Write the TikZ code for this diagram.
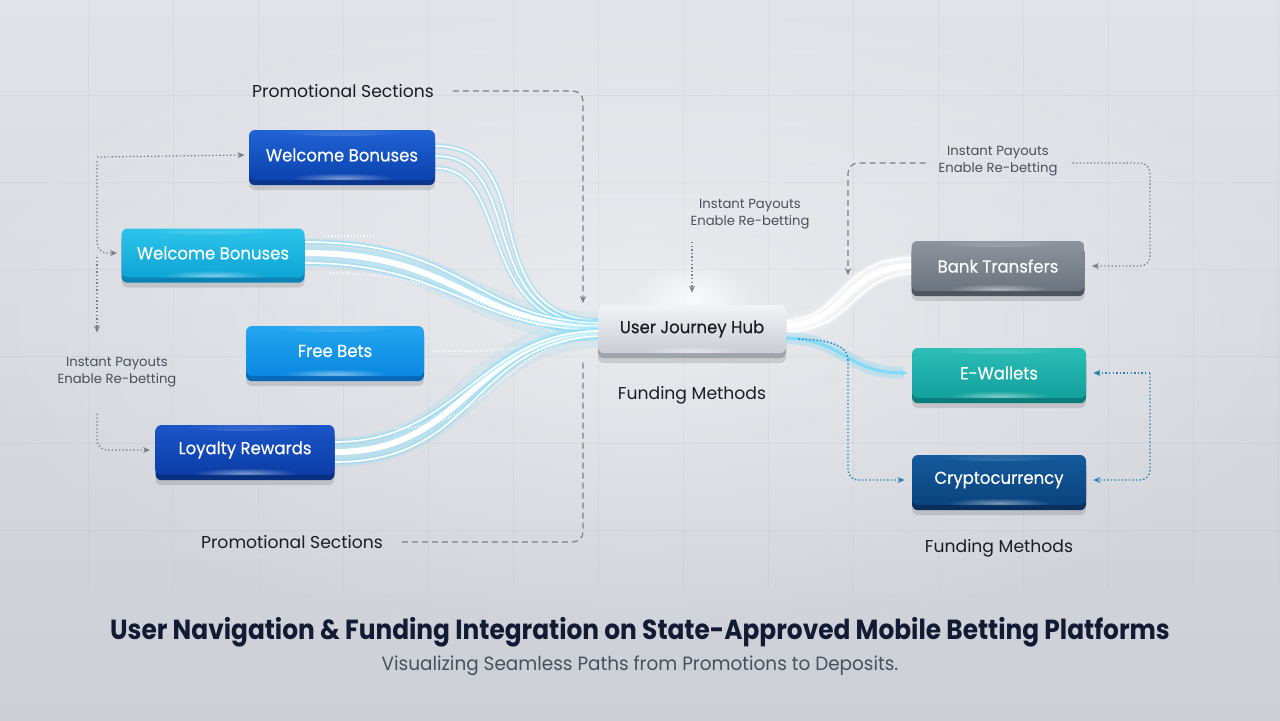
\documentclass[tikz,border=0pt]{standalone}
\usepackage{fontspec}
\setmainfont{Poppins}
\newfontfamily\titlefont[FakeStretch=0.9]{Poppins}
\newfontfamily\subfont[FakeStretch=0.96]{Poppins}
\newfontfamily\cardfont[FakeBold=0.35,FakeStretch=0.95]{Poppins}
\usetikzlibrary{arrows.meta,shadows,calc,fadings}
\tikzfading[name=softglow, inner color=transparent!0, outer color=transparent!100]
\pgfdeclarelayer{bglayer}
\pgfdeclarelayer{flowlayer}
\pgfsetlayers{bglayer,flowlayer,main}
\definecolor{bgtop}{HTML}{E1E3E8}
\definecolor{bgbot}{HTML}{CCCFD6}
\definecolor{wbA}{HTML}{1F63D6}\definecolor{wbAb}{HTML}{0B43AE}\definecolor{wbAe}{HTML}{0A3690}
\definecolor{wbB}{HTML}{2DC4EA}\definecolor{wbBb}{HTML}{0EA4D6}\definecolor{wbBe}{HTML}{0A84B4}
\definecolor{fbA}{HTML}{23A6F0}\definecolor{fbAb}{HTML}{0A88E0}\definecolor{fbAe}{HTML}{0868B8}
\definecolor{lrA}{HTML}{1B55C8}\definecolor{lrAb}{HTML}{0B3DA6}\definecolor{lrAe}{HTML}{08307E}
\definecolor{hubA}{HTML}{F2F3F5}\definecolor{hubAb}{HTML}{C9CDD4}\definecolor{hubAe}{HTML}{9EA3AC}
\definecolor{bkA}{HTML}{8D949D}\definecolor{bkAb}{HTML}{6B737E}\definecolor{bkAe}{HTML}{4E555E}
\definecolor{ewA}{HTML}{2CBDB6}\definecolor{ewAb}{HTML}{12A09C}\definecolor{ewAe}{HTML}{0B7C79}
\definecolor{crA}{HTML}{135A9C}\definecolor{crAb}{HTML}{0B437E}\definecolor{crAe}{HTML}{082F5E}
\definecolor{glow}{HTML}{5FD2F5}
\definecolor{dotgray}{HTML}{7A808A}
\definecolor{dotblue}{HTML}{2A7FB5}
\definecolor{titlecol}{HTML}{131A33}
\definecolor{subcol}{HTML}{4A4F5C}
\definecolor{labcol}{HTML}{1A1D26}
\tikzset{
  card/.style n args={3}{rounded corners=3pt, text=white, inner sep=0pt,
    font=\cardfont\fontsize{8.7}{11}\selectfont, top color=#1, bottom color=#2,
    drop shadow={shadow xshift=0pt, shadow yshift=-5pt, opacity=0.12, fill=black},
    general shadow={shadow yshift=-2.6pt, fill=#3},
    path picture={
      \fill[white, opacity=0.35, path fading=softglow] (path picture bounding box.north) ellipse (34pt and 3pt);
      \fill[white, opacity=0.45, path fading=softglow] ([yshift=1pt]path picture bounding box.south) ellipse (26pt and 2.5pt);
    }},
  sectlabel/.style={text=labcol, font=\fontsize{8.6}{10}\selectfont},
  notelabel/.style={text=subcol, font=\fontsize{6.6}{8.2}\selectfont, align=center},
  graydash/.style={draw=dotgray, line width=0.6pt, dash pattern=on 3pt off 2pt, rounded corners=5pt},
  graydot/.style={draw=dotgray, line width=0.6pt, dash pattern=on 0.7pt off 1.1pt, rounded corners=5pt},
  bluedot/.style={draw=dotblue, line width=0.7pt, dash pattern=on 0.7pt off 1.1pt, rounded corners=5pt},
  tip/.style={-{Stealth[length=3.5pt,width=3pt]}},
  flowmain/.style={draw=white, line width=3pt, line cap=round,
    preaction={draw=glow, line width=15pt, opacity=0.10},
    preaction={draw=glow!60!white, line width=7pt, opacity=0.45}},
  flowthin/.style={draw=white, line width=0.8pt, line cap=round,
    preaction={draw=glow!80!white, line width=2.6pt, opacity=0.45}},
  flowwhite/.style={draw=white, line width=3pt, line cap=round,
    preaction={draw=white, line width=12pt, opacity=0.15},
    preaction={draw=white, line width=6pt, opacity=0.5}},
  flowwthin/.style={draw=white, line width=0.8pt, line cap=round,
    preaction={draw=white, line width=2.5pt, opacity=0.35}},
  flowcyan/.style={draw=glow!80!white, line width=1.5pt, line cap=round,
    preaction={draw=glow, line width=6pt, opacity=0.25}},
  flowdots/.style={draw=white, line width=0.8pt, dash pattern=on 0.6pt off 1pt, opacity=0.85},
}
\begin{document}
\begin{tikzpicture}[x=0.5pt,y=-0.5pt]
\useasboundingbox (0,0) rectangle (1280,720);
% background
\begin{pgfonlayer}{bglayer}
\fill[top color=bgtop, bottom color=bgbot] (0,0) rectangle (1280,720);
\fill[white, opacity=0.45, path fading=softglow] (640,320) ellipse (700 and 330);
\foreach \gx in {88,173,...,1280} \draw[black, opacity=0.03, line width=0.4pt] (\gx,0) -- (\gx,590);
\foreach \gy in {95,182,...,600} \draw[black, opacity=0.03, line width=0.4pt] (0,\gy) -- (1280,\gy);
\fill[white, opacity=0.8, path fading=softglow] (692,300) ellipse (60 and 40);
\end{pgfonlayer}

% nodes
\node[card={wbA}{wbAb}{wbAe}, minimum width=93pt, minimum height=25pt] (wb1) at (342,155) {Welcome Bonuses};
\node[card={wbB}{wbBb}{wbBe}, minimum width=91.5pt, minimum height=24.5pt] (wb2) at (213,253) {Welcome Bonuses};
\node[card={fbA}{fbAb}{fbAe}, minimum width=89pt, minimum height=25pt] (fb) at (335,351) {Free Bets};
\node[card={lrA}{lrAb}{lrAe}, minimum width=89.5pt, minimum height=25pt] (lr) at (245,450) {Loyalty Rewards};
\node[card={hubA}{hubAb}{hubAe}, text=labcol, minimum width=94pt, minimum height=24pt] (hub) at (692,329) {User Journey Hub};
\node[card={bkA}{bkAb}{bkAe}, minimum width=86.5pt, minimum height=25pt] (bank) at (998,266) {Bank Transfers};
\node[card={ewA}{ewAb}{ewAe}, minimum width=87pt, minimum height=25pt] (ew) at (999,373) {E-Wallets};
\node[card={crA}{crAb}{crAe}, minimum width=87pt, minimum height=25pt] (crypto) at (999,480) {Cryptocurrency};

% flows
\begin{pgfonlayer}{flowlayer}
\draw[flowthin] ($(wb1.east)+(0,-9)$) .. controls (545,146) and (470,318) .. ($(hub.west)+(4,-8)$);
\draw[flowthin] ($(wb1.east)+(0,1)$) .. controls (530,156) and (470,322) .. ($(hub.west)+(4,-4)$);
\draw[flowthin] ($(wb1.east)+(0,13)$) .. controls (515,168) and (470,326) .. ($(hub.west)+(4,-1)$);
\draw[flowmain] (wb2.east) .. controls (460,253) and (470,326) .. ($(hub.west)+(4,-2)$);
\draw[flowthin] ($(wb2.east)+(0,-11)$) .. controls (470,242) and (470,320) .. ($(hub.west)+(4,-6)$);
\draw[flowthin] ($(wb2.east)+(0,10)$) .. controls (450,263) and (470,330) .. ($(hub.west)+(4,1)$);
\draw[flowdots] ($(wb2.east)+(20,-17)$) -- ($(wb2.east)+(70,-17)$);
\draw[flowdots] ($(wb2.east)+(25,20)$) .. controls (420,273) and (470,300) .. ($(hub.west)+(-30,8)$);
\draw[flowdots] ($(fb.east)+(8,0)$) .. controls (520,353) and (540,342) .. ($(hub.west)+(0,4)$);
\draw[flowmain] ($(lr.east)+(0,2)$) .. controls (470,452) and (470,334) .. ($(hub.west)+(4,4)$);
\draw[flowthin] ($(lr.east)+(0,-8)$) .. controls (460,442) and (480,330) .. ($(hub.west)+(4,2)$);
\draw[flowthin] ($(lr.east)+(0,12)$) .. controls (480,462) and (470,340) .. ($(hub.west)+(4,7)$);
\draw[flowdots] ($(lr.east)+(60,-22)$) .. controls (480,430) and (500,360) .. ($(hub.west)+(-30,12)$);
% right flows
\draw[flowwhite] ($(hub.east)+(-4,-3)$) .. controls (850,326) and (840,266) .. ($(bank.west)+(4,0)$);
\draw[flowwthin] ($(hub.east)+(-4,-8)$) .. controls (845,321) and (835,258) .. ($(bank.west)+(4,-8)$);
\draw[flowwthin] ($(hub.east)+(-4,3)$) .. controls (855,332) and (850,274) .. ($(bank.west)+(4,7)$);
\draw[flowdots] ($(hub.east)+(8,-12)$) .. controls (810,316) and (815,314) .. ($(hub.east)+(34,-20)$);
\draw[flowcyan, tip] ($(hub.east)+(-4,9)$) .. controls (845,338) and (845,373) .. ($(ew.west)+(-4,0)$);
\end{pgfonlayer}

% labels
\node[sectlabel] (promo1) at (343,91) {Promotional Sections};
\node[sectlabel] (promo2) at (292,542) {Promotional Sections};
\node[sectlabel] (fm1) at (692,395) {Funding Methods};
\node[sectlabel] (fm2) at (999,548) {Funding Methods};
\node[notelabel] (ip1) at (117,372) {Instant Payouts\\Enable Re-betting};
\node[notelabel] (ip2) at (750,214) {Instant Payouts\\Enable Re-betting};
\node[notelabel] (ip3) at (998,161) {Instant Payouts\\Enable Re-betting};

% dashed / dotted connectors
\coordinate (pA) at (583,303);
\coordinate (pB) at (583,360);
\draw[graydash, tip] ($(promo1.east)+(12,0)$) -| (pA);
\draw[graydash] ($(promo2.east)+(12,0)$) -| (pB);

\coordinate (lx) at (97,157);
\draw[graydot, tip] (lx) -- ($(wb1.west)+(-4,0)$);
\draw[graydot, tip] ($(lx)+(0,4)$) |- ($(wb2.west)+(-4,0)$);
\draw[graydot, tip] ($(lx)+(0,100)$) -- ($(ip1.north -| lx)+(0,-18)$);
\draw[graydot, tip] ($(ip1.south -| lx)+(0,20)$) |- ($(lr.west)+(-5,0)$);

\coordinate (mid) at (692,242);
\draw[graydot, tip] (mid) -- ($(hub.north -| mid)+(0,-12)$);

\coordinate (rL) at (848,275);
\coordinate (rR) at (1150,163);
\coordinate (rR2) at (1150,266);
\draw[graydash, tip] ($(ip3.west)+(-6,2)$) -| (rL);
\draw[graydot, tip] ($(ip3.east)+(8,2)$) -- (rR) -- (rR2) -- ($(bank.east)+(7,0)$);

\coordinate (bR) at (1150,373);
\coordinate (bR2) at (1150,480);
\draw[bluedot, tip] (bR) -- ($(ew.east)+(7,0)$);
\draw[bluedot, tip] (bR) -- (bR2) -- ($(crypto.east)+(7,0)$);
\coordinate (bL) at (848,360);
\draw[bluedot] ($(hub.east)+(12,10)$) .. controls (840,340) and (848,350) .. (bL);
\draw[bluedot, tip] (bL) |- ($(crypto.west)+(-7,0)$);

% title
\node[text=titlecol, font=\titlefont\bfseries\fontsize{13.8}{16}\selectfont] (title) at (640,632) {User Navigation \& Funding Integration on State-Approved Mobile Betting Platforms};
\node[text=subcol, font=\subfont\fontsize{9.6}{12}\selectfont] (subtitle) at (640,666) {Visualizing Seamless Paths from Promotions to Deposits.};
\end{tikzpicture}
\end{document}
